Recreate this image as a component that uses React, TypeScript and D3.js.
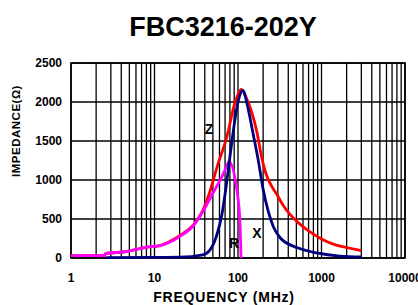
import React from "react";
import * as d3 from "d3";

// frequency (MHz) / impedance (ohm) readings
const zFreq = [1, 2.5, 2.6, 4.4, 8.8, 11.6, 20, 29, 38, 46, 57, 73, 92, 110, 125, 168, 193, 215, 250, 290, 350, 420, 505, 875, 1040, 1500, 2200, 3000];
const zVal = [30, 30, 55, 80, 145, 160, 285, 420, 610, 850, 1190, 1540, 1990, 2160, 2060, 1620, 1280, 1090, 930, 820, 670, 560, 470, 280, 235, 165, 125, 95];

const rFreq = [1, 2.5, 2.6, 4.4, 8.8, 11.6, 20, 29, 38, 50, 64, 72, 78, 97, 105.7, 108.7];
const rVal = [30, 30, 55, 80, 145, 160, 275, 410, 595, 830, 1040, 1160, 1235, 870, 445, 0];

const xFreq = [2.6, 10, 20, 38, 46, 55, 64, 73, 82, 100, 114, 130, 150, 175, 200, 230, 265, 320, 350, 505, 875, 1660, 3000];
const xVal = [5, 8, 10, 40, 100, 275, 550, 960, 1385, 2000, 2150, 1950, 1620, 1250, 880, 600, 400, 260, 220, 135, 65, 25, 15];

const yTicks = [0, 500, 1000, 1500, 2000, 2500];
const xTickLabels = [1, 10, 100, 1000, 10000];

const font = "'Liberation Sans', Arial, sans-serif";

export default function App() {
  const x = d3.scaleLog().domain([1, 10000]).range([71, 405]);
  const y = d3.scaleLinear().domain([0, 2500]).range([258, 63]);

  const line = d3
    .line<[number, number]>()
    .x((d) => x(d[0]))
    .y((d) => y(d[1]))
    .curve(d3.curveMonotoneX);

  const pts = (f: number[], v: number[]) => f.map((d, i) => [d, v[i]] as [number, number]);

  return (
    <svg width={418} height={305} style={{ position: "absolute", left: 0, top: 0 }}>
      <rect width={418} height={305} fill="#fff" />
      <text x={223} y={36} textAnchor="middle" fontFamily={font} fontWeight="bold" fontSize={27}>
        FBC3216-202Y
      </text>

      {/* grid */}
      {x.ticks().map((t) => (
        <line key={"v" + t} x1={x(t)} x2={x(t)} y1={63} y2={258} stroke="#000" strokeWidth={1.3} />
      ))}
      {yTicks.map((t) => (
        <line key={"h" + t} x1={71} x2={405} y1={y(t)} y2={y(t)} stroke="#000" strokeWidth={1.3} />
      ))}
      <rect x={71} y={63} width={334} height={195} fill="none" stroke="#000" strokeWidth={1.6} />

      {/* tick labels */}
      {yTicks.map((t) => (
        <text key={"yl" + t} x={62} y={y(t)} dy="0.35em" textAnchor="end" fontFamily={font} fontWeight="bold" fontSize={12}>
          {t}
        </text>
      ))}
      {xTickLabels.map((t) => (
        <text key={"xl" + t} x={x(t)} y={282} textAnchor="middle" fontFamily={font} fontWeight="bold" fontSize={12}>
          {t}
        </text>
      ))}

      <text x={224} y={302} textAnchor="middle" fontFamily={font} fontWeight="bold" fontSize={14} letterSpacing={0.8}>
        FREQUENCY (MHz)
      </text>
      <text
        transform="translate(20,131) rotate(-90)"
        textAnchor="middle"
        fontFamily={font}
        fontWeight="bold"
        fontSize={11.5}
        letterSpacing={0.5}
      >
        IMPEDANCE(Ω)
      </text>

      {/* curves */}
      <path d={line(pts(zFreq, zVal)) ?? ""} fill="none" stroke="#ff0000" strokeWidth={2.8} />
      <path d={line(pts(rFreq, rVal)) ?? ""} fill="none" stroke="#ff00ff" strokeWidth={2.8} />
      <path d={line(pts(xFreq, xVal)) ?? ""} fill="none" stroke="#000080" strokeWidth={2.8} />

      <text x={209} y={134} textAnchor="middle" fontFamily={font} fontWeight="bold" fontSize={14}>Z</text>
      <text x={234} y={248} textAnchor="middle" fontFamily={font} fontWeight="bold" fontSize={14}>R</text>
      <text x={257} y={238} textAnchor="middle" fontFamily={font} fontWeight="bold" fontSize={14}>X</text>
    </svg>
  );
}
